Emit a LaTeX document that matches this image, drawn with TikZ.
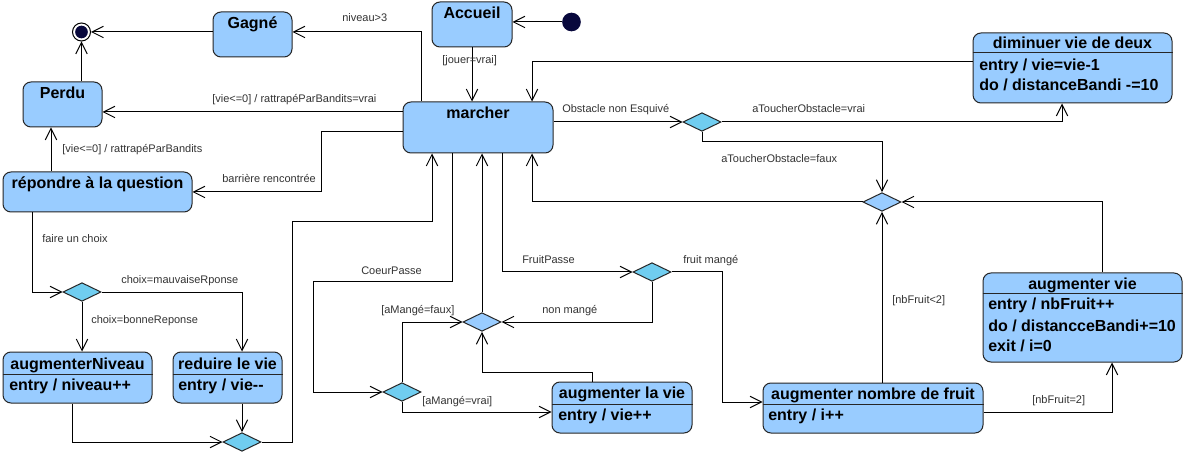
\documentclass[tikz,border=0pt]{standalone}
\usepackage{fontspec}
\setmainfont{Liberation Sans}
\usetikzlibrary{arrows.meta,fit,shapes.geometric}
\definecolor{boxblue}{RGB}{153,204,255}
\definecolor{decblue}{RGB}{112,205,240}
\definecolor{navy}{RGB}{8,8,60}
\begin{document}
\begin{tikzpicture}[x=0.75pt,y=-0.75pt,
  state/.style={draw=black!85, line width=0.75pt, fill=boxblue, rounded corners=6pt, inner sep=0pt},
  dec/.style={shape=diamond, draw=black!85, line width=0.75pt, fill=decblue, inner sep=0pt, minimum width=28.5pt, minimum height=14pt},
  merge/.style={dec, fill=boxblue},
  ttl/.style={font=\fontsize{12}{14}\selectfont\bfseries, inner sep=0pt, anchor=base},
  ent/.style={font=\fontsize{12}{14}\selectfont\bfseries, inner sep=0pt, anchor=base west},
  lbl/.style={font=\fontsize{8.25}{10}\selectfont, text=black!80, inner sep=0pt, anchor=base west},
  sep/.style={draw=black!85, line width=0.75pt},
  tr/.style={draw=black, line width=0.75pt, -{Straight Barb[length=8.5pt,width=8.5pt]}}
]
\fill[white] (0,0) rectangle (1186,456);
\useasboundingbox (0,0) rectangle (1186,456);

% ---------- states ----------
\node[state, fit={(213,12)(292,57)}] (gagne) {};
\node[ttl] (gagneT) at (252.5,29) {Gagné};
\node[state, fit={(23,82)(102,127)}] (perdu) {};
\node[ttl] (perduT) at (62.5,99) {Perdu};
\node[state, fit={(432,2)(512,47)}] (accueil) {};
\node[ttl] (accueilT) at (472,19) {Accueil};
\node[state, fit={(403,102)(553,153)}] (marcher) {};
\node[ttl] (marcherT) at (478,119) {marcher};
\node[state, fit={(3,172)(192,212)}] (repondre) {};
\node[ttl] (repondreT) at (97.5,189) {répondre à la question};

\node[state, fit={(973,33)(1172,103)}] (dimin) {};
\node[ttl] (diminT) at (1072.5,49) {diminuer vie de deux};
\draw[sep] (dimin.west |- 0,53) -- (dimin.east |- 0,53);
\node[ent] (diminE1) at (979,71) {entry / vie=vie-1};
\node[ent] (diminE2) at (979,91) {do / distanceBandi -=10};

\node[state, fit={(983,273)(1182,362)}] (augvie) {};
\node[ttl] (augvieT) at (1082.5,289) {augmenter vie};
\draw[sep] (augvie.west |- 0,293) -- (augvie.east |- 0,293);
\node[ent] (augvieE1) at (988,310) {entry / nbFruit++};
\node[ent] (augvieE2) at (988,331) {do / distancceBandi+=10};
\node[ent] (augvieE3) at (988,351) {exit / i=0};

\node[state, fit={(763,383)(983,433)}] (augfruit) {};
\node[ttl] (augfruitT) at (873,399) {augmenter nombre de fruit};
\draw[sep] (augfruit.west |- 0,404) -- (augfruit.east |- 0,404);
\node[ent] (augfruitE) at (768,420) {entry / i++};

\node[state, fit={(552,382)(692,433)}] (auglavie) {};
\node[ttl] (auglavieT) at (622,398) {augmenter la vie};
\draw[sep] (auglavie.west |- 0,404) -- (auglavie.east |- 0,404);
\node[ent] (auglavieE) at (558,420) {entry / vie++};

\node[state, fit={(3,352)(152,403)}] (augniv) {};
\node[ttl] (augnivT) at (77.5,369) {augmenterNiveau};
\draw[sep] (augniv.west |- 0,374) -- (augniv.east |- 0,374);
\node[ent] (augnivE) at (9,390) {entry / niveau++};

\node[state, fit={(173,352)(282,403)}] (reduire) {};
\node[ttl] (reduireT) at (227.5,369) {reduire le vie};
\draw[sep] (reduire.west |- 0,374) -- (reduire.east |- 0,374);
\node[ent] (reduireE) at (178,390) {entry / vie{-}{-}};

% ---------- pseudo states ----------
\node[circle, draw=black, line width=0.75pt, fill=white, minimum size=13.5pt, inner sep=0pt] (final) at (81.5,32) {};
\node[circle, fill=navy, minimum size=9.5pt, inner sep=0pt] (finalin) at (final) {};
\node[circle, fill=navy, minimum size=14pt, inner sep=0pt] (init) at (571.5,22) {};

% ---------- diamonds ----------
\node[dec] (d1) at (702,122) {};
\node[merge] (d2) at (882,202) {};
\node[dec] (dfruit) at (652,272) {};
\node[merge] (dnon) at (482,322) {};
\node[dec] (dmange) at (402,392) {};
\node[dec] (dchoix) at (82,292) {};
\node[dec] (dbot) at (242,442) {};

% ---------- transitions ----------
\draw[tr] (init) -- (accueil.east |- init);
\draw[tr] (accueil.south) -- (marcher.north -| accueil.south);
\draw[tr] (gagne.west |- final) -- (final);
\draw[tr] (final |- perdu.north) -- (final);
\draw[tr] (marcher.north -| 421,0) -- (421,32) -- (gagne.east |- 0,32);
\draw[tr] (marcher.west |- 0,112) -- (perdu.east |- 0,112);
\draw[tr] (marcher.west |- 0,132) -| (321,192) -- (repondre.east);
\draw[tr] (repondre.north -| 51,0) -- (perdu.south -| 51,0);
\draw[tr] (repondre.south -| 32,0) |- (dchoix.west);
\draw[tr] (dchoix.south) -- (augniv.north -| dchoix.south);
\draw[tr] (dchoix.east) -| (reduire.north -| 242,0);
\draw[tr] (augniv.south -| 72,0) |- (dbot.west);
\draw[tr] (reduire.south -| dbot) -- (dbot.north);
\draw[tr] (dbot.east) -| (292,222) -| (marcher.south -| 432,0);
\draw[tr] (marcher.south -| 452,0) |- (313,282) |- (dmange.west);
\draw[tr] (dmange.north) |- (dnon.west);
\draw[tr] (dmange.south) |- (auglavie.west |- 0,412);
\draw[tr] (auglavie.north -| 592,0) -- (592,372) -| (dnon.south);
\draw[tr] (dnon.north) -- (marcher.south -| dnon.north);
\draw[tr] (marcher.south -| 502,0) |- (dfruit.west);
\draw[tr] (dfruit.south) |- (dnon.east);
\draw[tr] (dfruit.east) -| (722,402) -- (augfruit.west |- 0,402);
\draw[tr] (augfruit.north -| d2) -- (d2.south);
\draw[tr] (augfruit.east |- 0,412) -| (augvie.south -| 1112,0);
\draw[tr] (augvie.north -| 1102,0) |- (d2.east);
\draw[tr] (d2.west) -| (marcher.south -| 532,0);
\draw[tr] (d1.south) -- (702,142) -| (d2.north);
\draw[tr] (d1.east) -| (dimin.south -| 1062,0);
\draw[tr] (dimin.west |- 0,62) -| (marcher.north -| 532,0);
\draw[tr] (marcher.east |- d1) -- (d1.west);

% ---------- labels ----------
\node[lbl] (l1) at (342,22) {niveau>3};
\node[lbl] (l2) at (212,103) {[vie<=0] / rattrapéParBandits=vrai};
\node[lbl] (l3) at (62,153) {[vie<=0] / rattrapéParBandits};
\node[lbl] (l4) at (222,183) {barrière rencontrée};
\node[lbl] (l5) at (42,243) {faire un choix};
\node[lbl] (l6) at (121,283) {choix=mauvaiseRponse};
\node[lbl] (l7) at (91,323) {choix=bonneReponse};
\node[lbl] (l8) at (361,274) {CoeurPasse};
\node[lbl] (l9) at (381,314) {[aMangé=faux]};
\node[lbl] (l10) at (542,313) {non mangé};
\node[lbl] (l11) at (422,404) {[aMangé=vrai]};
\node[lbl] (l12) at (522,263) {FruitPasse};
\node[lbl] (l13) at (683,263) {fruit mangé};
\node[lbl] (l14) at (892,303) {[nbFruit<2]};
\node[lbl] (l15) at (1032,403) {[nbFruit=2]};
\node[lbl] (l16) at (721,163) {aToucherObstacle=faux};
\node[lbl] (l17) at (752,113) {aToucherObstacle=vrai};
\node[lbl] (l18) at (562,113) {Obstacle non Esquivé};
\node[lbl] (l19) at (442,64) {[jouer=vrai]};
\end{tikzpicture}
\end{document}
